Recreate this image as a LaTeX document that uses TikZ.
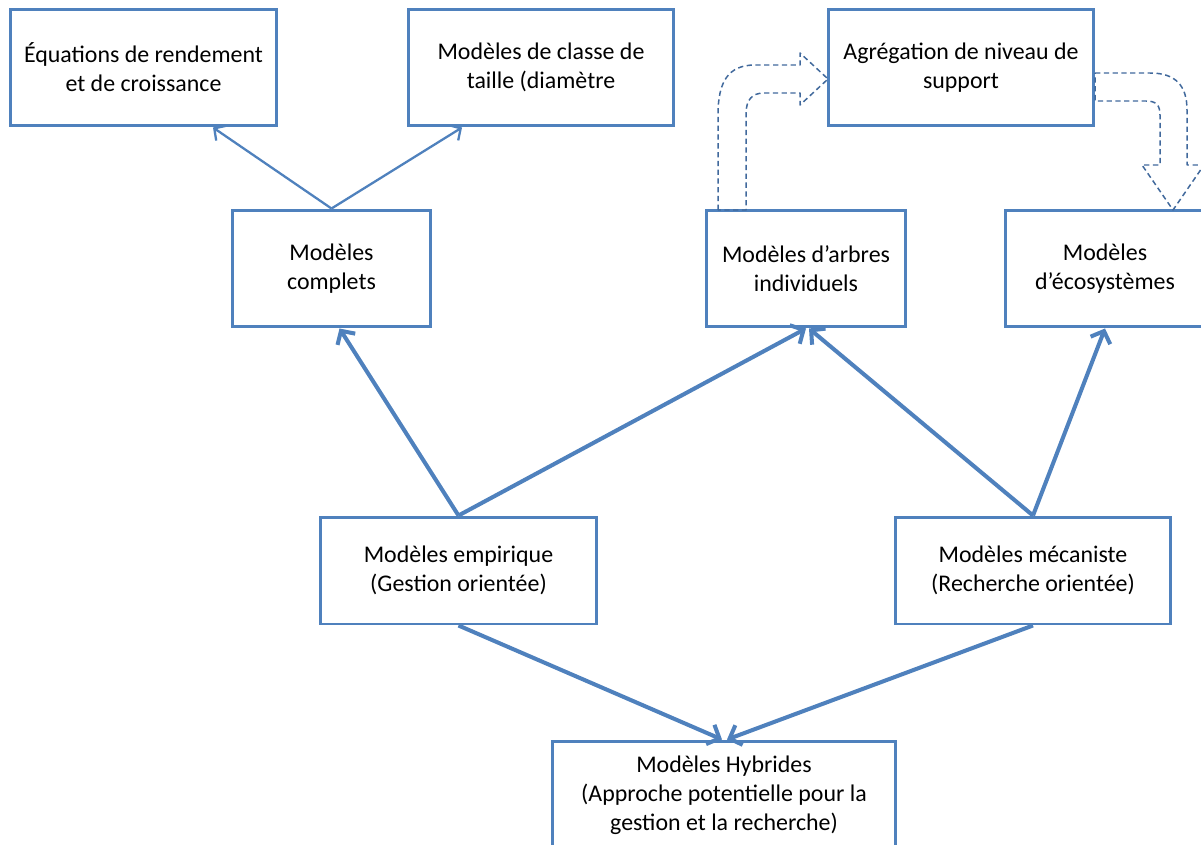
\documentclass[tikz,border=0pt]{standalone}
\usepackage{fontspec}
\setmainfont{Carlito}
\usepackage{xcolor}
\usetikzlibrary{arrows.meta}
\definecolor{boxblue}{HTML}{4F81BD}
\definecolor{dashblue}{HTML}{41699C}
\tikzset{
  box/.style={draw=boxblue,line width=1.7pt,align=center,inner sep=2pt,
    font=\fontsize{13.6}{16.4}\selectfont},
  thinlink/.style={draw=boxblue,line width=1.3pt,-{Straight Barb[length=1.7mm,width=3.6mm]}},
  link/.style={draw=boxblue,line width=2.3pt,-{Straight Barb[length=2mm,width=4.2mm]}},
  bent/.style={draw=dashblue,line width=0.85pt,dash pattern=on 3pt off 2pt,line join=round}
}
\begin{document}
\begin{tikzpicture}[x=0.02cm,y=-0.02cm]
  \useasboundingbox (0,0) rectangle (1201,845);
  % top row
  \node[box,minimum width=5.34cm,minimum height=2.34cm] (eq) at (143.5,67.5) {Équations de rendement\\et de croissance};
  \node[box,minimum width=5.32cm,minimum height=2.34cm] (taille) at (541,67.5) {Modèles de classe de\\taille (diamètre};
  \node[box,minimum width=5.32cm,minimum height=2.34cm] (agreg) at (961,67.5) {Agrégation de niveau de\\support};
  % middle row
  \node[box,minimum width=3.98cm,minimum height=2.34cm] (complets) at (331.5,268.5) {Modèles\\complets};
  \node[box,minimum width=4cm,minimum height=2.34cm] (arbres) at (806,268.5) {Modèles d’arbres\\individuels};
  \node[box,minimum width=4cm,minimum height=2.34cm] (ecos) at (1105,268.5) {Modèles\\d’écosystèmes};
  % lower rows
  \node[box,minimum width=5.54cm,minimum height=2.14cm] (empirique) at (458.5,570.5) {Modèles empirique\\(Gestion orientée)};
  \node[box,minimum width=5.52cm,minimum height=2.14cm] (mecaniste) at (1033,570.5) {Modèles mécaniste\\(Recherche orientée)};
  \node[box,minimum width=6.88cm,minimum height=2.18cm] (hybrides) at (724,795.5) {Modèles Hybrides\\(Approche potentielle pour la\\gestion et la recherche)};

  \draw[thinlink] (complets.north) -- ([xshift=1.39cm]eq.south);
  \draw[thinlink] (complets.north) -- ([xshift=-1.58cm]taille.south);
  \draw[link] (empirique.north) -- ([xshift=0.16cm]complets.south);
  \draw[link] (empirique.north) -- (arbres.south);
  \draw[link] (mecaniste.north) -- ([xshift=0.06cm]arbres.south);
  \draw[link] (mecaniste.north) -- (ecos.south);
  \draw[link] (empirique.south) -- ([xshift=-0.04cm]hybrides.north);
  \draw[link] (mecaniste.south) -- ([xshift=0.06cm]hybrides.north);

  % bent block arrows
  \draw[bent] (718,210) -- (718,115) .. controls (718,82) and (728,65) .. (755,65) -- (800,65) -- (800,53)
    -- (828,79) -- (800,105) -- (800,93) -- (764,93) .. controls (752,93) and (746,100) .. (746,114) -- (746,210) -- cycle;
  \draw[bent] (1095,73) -- (1150,73) .. controls (1176,73) and (1187,86) .. (1187,110) -- (1187,165) -- (1204,165)
    -- (1173,210) -- (1142,165) -- (1160,165) -- (1160,115) .. controls (1160,105) and (1156,101) .. (1146,101) -- (1095,101) -- cycle;
\end{tikzpicture}
\end{document}
